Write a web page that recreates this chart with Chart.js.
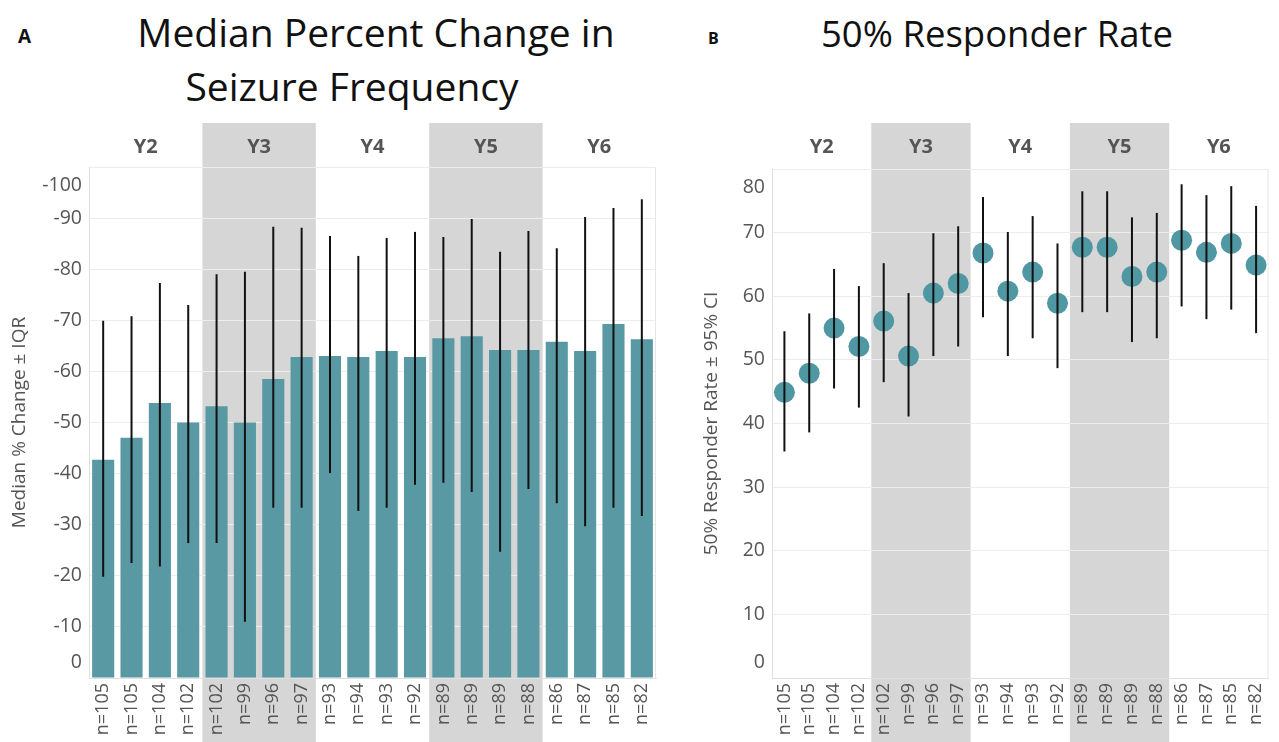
<!DOCTYPE html>
<html>
<head>
<meta charset="utf-8">
<script src="https://cdn.jsdelivr.net/npm/chart.js@4.4.1/dist/chart.umd.min.js"></script>
<style>
  body { margin: 0; background: #fff; }
  #wrap { position: relative; width: 1279px; height: 742px; overflow: hidden; font-family: "Open Sans", sans-serif; }
  .panel { position: absolute; font-weight: bold; color: #111; line-height: 1; }
  .title { position: absolute; color: #111; text-align: center; line-height: 54px; width: 600px; white-space: nowrap; }
  canvas { position: absolute; top: 110px; }
</style>
</head>
<body>
<div id="wrap">
  <div class="panel" style="left:18px; top:27px; font-size:19px;">A</div>
  <div class="title" style="left:76px; top:5px; font-size:39px;">Median Percent Change in</div>
  <div class="title" style="left:52px; top:59px; font-size:39px;">Seizure Frequency</div>
  <div class="panel" style="left:708px; top:30px; font-size:16px;">B</div>
  <div class="title" style="left:697px; top:6px; font-size:36.5px;">50% Responder Rate</div>
  <canvas id="chartA" width="670" height="632" style="left:0;"></canvas>
  <canvas id="chartB" width="599" height="632" style="left:680px;"></canvas>
</div>

<script>
// year groups, 4 visits each; Y3 and Y5 are shaded
const groups = ["Y2", "Y3", "Y4", "Y5", "Y6"];
const groupSize = 4;
const shadedGroups = [1, 3];

const nLabels = ["n=105", "n=105", "n=104", "n=102", "n=102", "n=99", "n=96", "n=97",
  "n=93", "n=94", "n=93", "n=92", "n=89", "n=89", "n=89", "n=88",
  "n=86", "n=87", "n=85", "n=82"];

// A: median % change with IQR
const medianChange = [-42.7, -47, -53.8, -50, -53.2, -50, -58.5, -62.8, -63, -62.8,
  -64, -62.8, -66.5, -66.9, -64.2, -64.2, -65.8, -64, -69.3, -66.3];
const iqrHigh = [-69.9, -70.8, -77.3, -73, -79, -79.5, -88.3, -88.1, -86.5, -82.6,
  -86.1, -87.3, -86.3, -89.8, -83.4, -87.5, -84.1, -90.2, -92, -93.7];
const iqrLow = [-19.8, -22.5, -21.8, -26.4, -26.4, -11, -33.3, -33.3, -40.1, -32.7,
  -33.3, -37.8, -38.2, -36.4, -24.7, -37, -34.2, -29.7, -33.3, -31.7];
const medianTicks = [0, -10, -20, -30, -40, -50, -60, -70, -80, -90, -100];

// B: 50% responder rate with 95% CI
const responderRate = [44.9, 47.9, 55, 52.1, 56.1, 50.6, 60.5, 62, 66.8, 60.8,
  63.8, 58.9, 67.7, 67.7, 63.1, 63.8, 68.8, 66.9, 68.3, 64.9];
const ciHigh = [54.5, 57.3, 64.3, 61.6, 65.2, 60.5, 69.9, 71, 75.6, 70.1,
  72.6, 68.3, 76.5, 76.5, 72.4, 73.1, 77.6, 75.9, 77.3, 74.2];
const ciLow = [35.6, 38.6, 45.5, 42.5, 46.5, 41.1, 50.6, 52.1, 56.7, 50.6,
  53.4, 48.7, 57.5, 57.5, 52.8, 53.4, 58.4, 56.4, 57.9, 54.2];
const responderTicks = [0, 10, 20, 30, 40, 50, 60, 70, 80];

const TEXT = "#555";
const FONT = "'Open Sans', sans-serif";

// bands, headers, error bars and all axis text
function makeDecor(low, high, axisTitle, titleX) {
  return {
    id: "decor",
    beforeDraw(chart) {
      const { ctx, scales: { x } } = chart;
      const step = x.getPixelForValue(1) - x.getPixelForValue(0);
      ctx.save();
      ctx.fillStyle = "#d6d6d6";
      shadedGroups.forEach(g => {
        const x0 = x.getPixelForValue(g * groupSize) - step / 2;
        const x1 = x.getPixelForValue(g * groupSize + groupSize - 1) + step / 2;
        ctx.fillRect(x0, 13, x1 - x0, chart.height);
      });
      ctx.fillStyle = TEXT;
      ctx.font = "bold 20px " + FONT;
      ctx.textAlign = "center";
      ctx.textBaseline = "middle";
      groups.forEach((g, i) => {
        const cx = (x.getPixelForValue(i * groupSize) + x.getPixelForValue(i * groupSize + groupSize - 1)) / 2;
        ctx.fillText(g, cx, 37);
      });
      ctx.restore();
    },
    afterDatasetsDraw(chart) {
      const { ctx, scales: { y } } = chart;
      const meta = chart.getDatasetMeta(0);
      ctx.save();
      ctx.strokeStyle = "#111";
      ctx.lineWidth = 2;
      low.forEach((lo, i) => {
        const xp = meta.data[i].x;
        ctx.beginPath();
        ctx.moveTo(xp, y.getPixelForValue(lo));
        ctx.lineTo(xp, y.getPixelForValue(high[i]));
        ctx.stroke();
      });
      ctx.restore();
    },
    afterDraw(chart) {
      const { ctx, chartArea: a, scales: { x, y } } = chart;
      ctx.save();
      // right edge of the pane
      ctx.strokeStyle = "#e6e6e6";
      ctx.lineWidth = 1;
      ctx.beginPath();
      ctx.moveTo(a.right - 0.5, a.top);
      ctx.lineTo(a.right - 0.5, a.bottom);
      ctx.stroke();

      // y tick labels, edge labels pulled inside like Tableau does
      ctx.fillStyle = TEXT;
      ctx.font = "19.5px " + FONT;
      ctx.textAlign = "right";
      ctx.textBaseline = "middle";
      y.ticks.forEach(t => {
        let yp = y.getPixelForValue(t.value);
        if (Math.abs(yp - a.top) < 2) yp = a.top + 18;
        else if (Math.abs(yp - a.bottom) < 2) yp = a.bottom - 16;
        ctx.fillText(String(t.value), a.left - 7, yp);
      });

      // rotated category labels
      ctx.font = "18px " + FONT;
      nLabels.forEach((t, i) => {
        ctx.save();
        ctx.translate(x.getPixelForValue(i), a.bottom + 5);
        ctx.rotate(-Math.PI / 2);
        ctx.fillText(t, 0, 0);
        ctx.restore();
      });

      // axis title
      ctx.font = "19px " + FONT;
      ctx.textAlign = "center";
      ctx.translate(titleX, (a.top + a.bottom) / 2);
      ctx.rotate(-Math.PI / 2);
      ctx.fillText(axisTitle, 0, 0);
      ctx.restore();
    }
  };
}

function baseScales(min, max, reverse, ticks) {
  return {
    x: {
      type: "category",
      offset: true,
      ticks: { display: false },
      grid: { display: false, drawTicks: false },
      border: { display: true, color: "#e0e0e0" }
    },
    y: {
      min, max, reverse,
      afterBuildTicks: s => { s.ticks = ticks.map(v => ({ value: v })); },
      ticks: { display: false },
      grid: { color: "#ededed", drawTicks: false },
      border: { display: true, color: "#e0e0e0" }
    }
  };
}

new Chart(document.getElementById("chartA").getContext("2d"), {
  type: "bar",
  data: {
    labels: nLabels,
    datasets: [{
      data: medianChange,
      backgroundColor: "#5899a3",
      barPercentage: 0.78,
      categoryPercentage: 1
    }]
  },
  options: {
    responsive: false,
    animation: false,
    layout: { padding: { left: 89, right: 14, top: 57, bottom: 64 } },
    plugins: { legend: { display: false }, tooltip: { enabled: false } },
    scales: baseScales(-100, 0, true, medianTicks)
  },
  plugins: [makeDecor(iqrLow, iqrHigh, "Median % Change \u00b1 IQR", 20)]
});

new Chart(document.getElementById("chartB").getContext("2d"), {
  type: "line",
  data: {
    labels: nLabels,
    datasets: [{
      data: responderRate,
      showLine: false,
      pointRadius: 10.5,
      pointHoverRadius: 10.5,
      pointBorderWidth: 0,
      pointBackgroundColor: "#4f97a2"
    }]
  },
  options: {
    responsive: false,
    animation: false,
    layout: { padding: { left: 92, right: 1, top: 59, bottom: 64 } },
    plugins: { legend: { display: false }, tooltip: { enabled: false } },
    scales: baseScales(0, 80, false, responderTicks)
  },
  plugins: [makeDecor(ciLow, ciHigh, "50% Responder Rate \u00b1 95% CI", 32)]
});
</script>
</body>
</html>
